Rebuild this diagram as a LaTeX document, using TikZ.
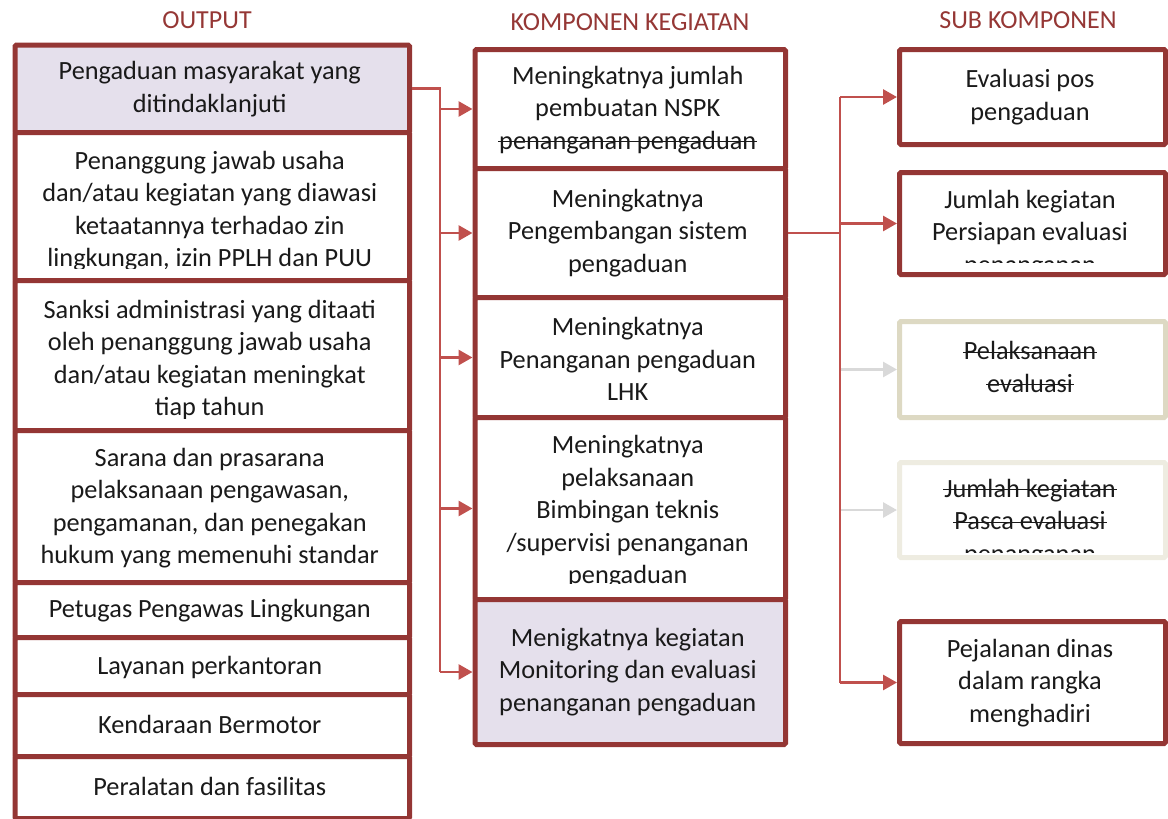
\documentclass[tikz,border=0pt]{standalone}
\usepackage{fontspec}
\setmainfont{Carlito}
\usetikzlibrary{arrows.meta,calc}

\definecolor{boxred}{HTML}{943634}
\definecolor{linkred}{HTML}{C0504D}
\definecolor{headred}{HTML}{953735}
\definecolor{lavender}{HTML}{E5E0EC}
\definecolor{tan}{HTML}{DDD9C3}
\definecolor{paletan}{HTML}{EEECE1}
\definecolor{greyarrow}{HTML}{D9D9D9}
\definecolor{ink}{HTML}{1A1A1A}

% struck-through text
\newcommand\strk[1]{\begingroup\setbox0\hbox{#1}%
  \rlap{\kern-1pt\rule[0.27em]{\dimexpr\wd0+2pt\relax}{1.1pt}}\box0\endgroup}

% how far above the lower border the overflowing text is cut off
\newcommand\cutinset{10}

% box with its text clipped to the inside:
% name, style, x1, y1, x2, y2, text centre y, text
\newcommand\clipbox[8]{%
  \node[#2, minimum width={(#5-(#3))*1pt}, minimum height={(#6-(#4))*1pt},
        anchor=north west] (#1) at (#3,#4) {};
  \begin{scope}
    \clip ({#3+3},{#4+3}) rectangle ({#5-3},{#6-\cutinset});
    \node[txt] (#1-t) at ({(#3+#5)/2},#7) {#8};
  \end{scope}}

\begin{document}
\begin{tikzpicture}[x=1pt,y=-1pt,
  frame/.style={draw=boxred, line width=5pt, rounded corners=1.5pt, fill=white, inner sep=0pt},
  shaded/.style={frame, fill=lavender},
  tanframe/.style={frame, draw=tan},
  paleframe/.style={frame, draw=paletan},
  txt/.style={align=center, inner sep=0pt, text=ink, font=\fontsize{26.3}{32.5}\selectfont},
  head/.style={inner sep=0pt, text=headred, font=\fontsize{26}{30}\selectfont},
  conn/.style={draw=linkred, line width=2.8pt},
  arr/.style={conn, -{Triangle[length=14pt,width=15pt]}},
  greyarr/.style={arr, draw=greyarrow}]

\useasboundingbox (0,0) rectangle (1168,819);

% column headings
\node[head] (h1) at (207,20) {OUTPUT};
\node[head] (h2) at (630,22) {KOMPONEN KEGIATAN};
\node[head] (h3) at (1028,20) {SUB KOMPONEN};

% OUTPUT column
\clipbox{L1}{shaded}{12.5}{42.5}{407}{130}{89}{Pengaduan masyarakat yang\\ditindaklanjuti}
\clipbox{L2}{frame}{12.5}{130}{407}{278}{211}{Penanggung jawab usaha\\dan/atau kegiatan yang diawasi\\ketaatannya terhadao zin\\lingkungan, izin PPLH dan PUU}
\clipbox{L3}{frame}{12.5}{278}{407}{428}{360}{Sanksi administrasi yang ditaati\\oleh penanggung jawab usaha\\dan/atau kegiatan meningkat\\tiap tahun}
\clipbox{L4}{frame}{12.5}{428}{407}{580}{508}{Sarana dan prasarana\\pelaksanaan pengawasan,\\pengamanan, dan penegakan\\hukum yang memenuhi standar}
\clipbox{L5}{frame}{12.5}{580}{407}{635}{611}{Petugas Pengawas Lingkungan}
\clipbox{L6}{frame}{12.5}{635}{407}{692}{667}{Layanan perkantoran}
\clipbox{L7}{frame}{12.5}{692}{407}{754}{724}{Kendaraan Bermotor}
\clipbox{L8}{frame}{12.5}{754}{407}{816}{786}{Peralatan dan fasilitas}

% KOMPONEN KEGIATAN column
\clipbox{M1}{frame}{472.5}{47}{783}{166}{110}{Meningkatnya jumlah\\pembuatan NSPK\\\strk{penanganan pengaduan}}
\clipbox{M2}{frame}{472.5}{166}{783}{295}{233}{Meningkatnya\\Pengembangan sistem\\pengaduan}
\clipbox{M3}{frame}{472.5}{295}{783}{415}{359}{Meningkatnya\\Penanganan pengaduan\\LHK}
\renewcommand\cutinset{14}
\clipbox{M4}{frame}{472.5}{415}{783}{597}{512}{Meningkatnya\\pelaksanaan\\Bimbingan teknis\\/supervisi penanganan\\pengaduan}
\renewcommand\cutinset{10}
\clipbox{M5}{shaded}{472.5}{597}{783}{742}{672}{Menigkatnya kegiatan\\Monitoring dan evaluasi\\penanganan pengaduan}

% SUB KOMPONEN column
\clipbox{R1}{frame}{897}{47}{1163}{142}{97}{Evaluasi pos\\pengaduan}
\clipbox{R2}{frame}{897}{170}{1163}{272}{234}{Jumlah kegiatan\\Persiapan evaluasi\\penanganan}
\clipbox{R3}{tanframe}{897}{319}{1163}{415}{367}{\strk{Pelaksanaan}\\\strk{evaluasi}}
\renewcommand\cutinset{3}
\clipbox{R4}{paleframe}{897}{460}{1163}{555}{523}{\strk{Jumlah kegiatan}\\\strk{Pasca evaluasi}\\penanganan}
\renewcommand\cutinset{10}
\clipbox{R5}{frame}{897}{619}{1163}{741}{683}{Pejalanan dinas\\dalam rangka\\menghadiri}

% connectors from the first output to the activity components
\coordinate (busA) at (440,0);
\draw[conn] (L1.east) -| (busA |- M5.west);
\draw[arr] (busA |- M1.west) -- (M1.west);
\draw[arr] (busA |- M2.west) -- (M2.west);
\draw[arr] (busA |- M3.west) -- (M3.west);
\draw[arr] (busA |- M4.west) -- (M4.west);
\draw[arr] (busA |- M5.west) -- (M5.west);

% connectors from the second component to the sub components
\coordinate (busB) at (840,0);
\draw[greyarr] (busB |- R3.west) -- (R3.west);
\draw[greyarr] (busB |- R4.west) -- (R4.west);
\draw[conn] (M2.east) -- (busB |- M2.east);
\draw[conn] (busB |- R1.west) -- (busB |- R5.west);
\draw[arr] (busB |- R1.west) -- (R1.west);
\draw[arr] (busB |- R2.west) -- (R2.west);
\draw[arr] (busB |- R5.west) -- (R5.west);
\end{tikzpicture}
\end{document}
